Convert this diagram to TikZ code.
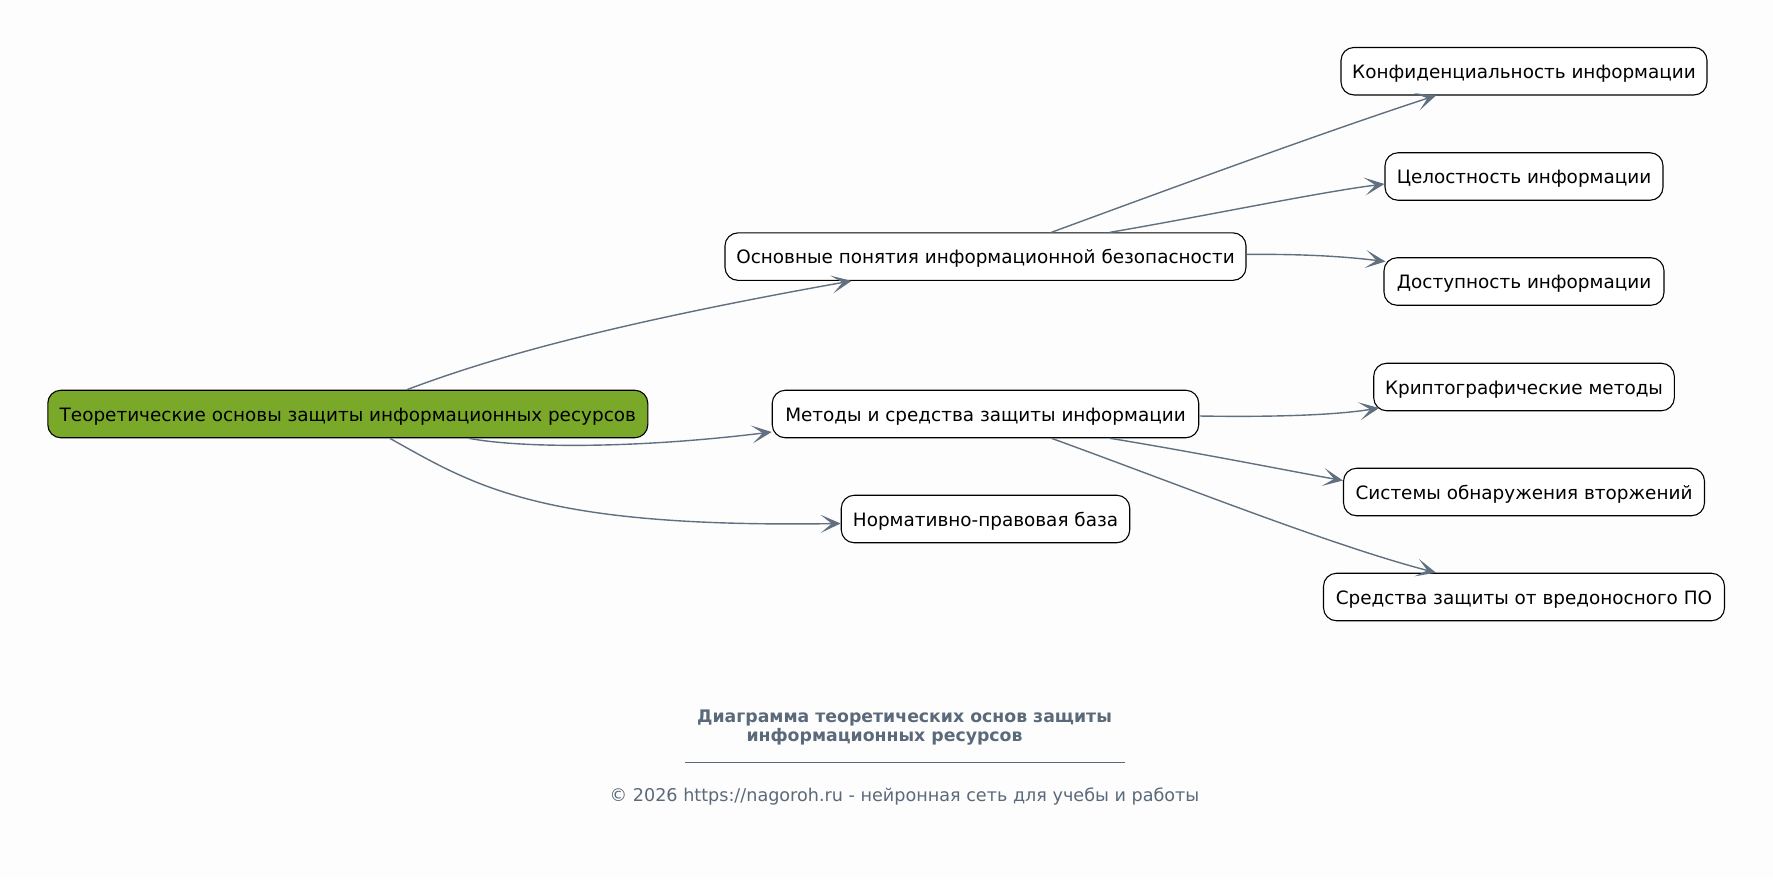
\documentclass[tikz,border=0pt]{standalone}
\usepackage{fontspec}
\setmainfont{DejaVu Sans}
\usetikzlibrary{arrows.meta}
\definecolor{edgec}{RGB}{96,112,128}
\definecolor{rootc}{RGB}{122,169,41}
\definecolor{bgc}{RGB}{253,253,253}
\definecolor{titlec}{RGB}{90,106,122}
\begin{document}
\begin{tikzpicture}[x=1pt,y=-1pt,
  box/.style={draw=black, line width=1.1pt, rounded corners=13pt, fill=white,
    minimum height=47.5pt, inner xsep=0pt, text height=18pt, text depth=4pt,
    font=\fontsize{18.4}{22}\selectfont, text=black},
  edge/.style={draw=edgec, line width=1.4pt, -{Stealth[length=20pt,width=18pt,inset=11pt]}}
]
\fill[bgc] (0,0) rectangle (1773,879);
\useasboundingbox (0,0) rectangle (1773,879);

\node[box, fill=rootc, minimum width=600pt] (root) at (347.8,414) {Теоретические основы защиты информационных ресурсов};
\node[box, minimum width=521pt] (osn) at (985.5,256.6) {Основные понятия информационной безопасности};
\node[box, minimum width=426.5pt] (met) at (985.5,414) {Методы и средства защиты информации};
\node[box, minimum width=288.5pt] (norm) at (985.5,519) {Нормативно-правовая база};
\node[box, minimum width=366pt] (konf) at (1524,71.2) {Конфиденциальность информации};
\node[box, minimum width=278pt] (cel) at (1524,176.5) {Целостность информации};
\node[box, minimum width=280pt] (dost) at (1524,281.5) {Доступность информации};
\node[box, minimum width=300.6pt] (krip) at (1524,387) {Криптографические методы};
\node[box, minimum width=361pt] (sys) at (1524,492) {Системы обнаружения вторжений};
\node[box, minimum width=401pt] (sred) at (1524,597) {Средства защиты от вредоносного ПО};

\draw[edge] ([xshift=59pt]root.north) .. controls (486,360) and (599,326) .. ([xshift=-134pt]osn.south);
\draw[edge] ([xshift=121pt]root.south) .. controls (520,448) and (633,449) .. ([yshift=-18pt]met.west);
\draw[edge] ([xshift=42pt]root.south) .. controls (475,486) and (540,528) .. ([yshift=-4.5pt]norm.west);

\draw[edge] ([xshift=66pt]osn.north) .. controls (1180,185) and (1330,130) .. ([xshift=-88pt]konf.south);
\draw[edge] ([xshift=124.5pt]osn.north) .. controls (1200,217) and (1320,192) .. ([yshift=-7.5pt]cel.west);
\draw[edge] ([yshift=2.2pt]osn.east) .. controls (1300,254) and (1340,256) .. ([xshift=2pt,yshift=20pt]dost.west);

\draw[edge] ([yshift=-2pt]met.east) .. controls (1260,417) and (1330,416) .. ([xshift=6pt,yshift=-21pt]krip.west);
\draw[edge] ([xshift=124.5pt]met.south) .. controls (1200,453) and (1300,473) .. ([yshift=11.5pt]sys.west);
\draw[edge] ([xshift=66pt]met.south) .. controls (1180,485) and (1330,545) .. ([xshift=-88pt]sred.north);

\node[text=titlec, font=\bfseries\fontsize{17.3}{19.5}\selectfont, align=center] (title) at (904.5,727.5)
  {Диаграмма теоретических основ защиты\\информационных ресурсов\hspace*{40pt}};
\coordinate (ul) at (685,762);
\coordinate (ur) at (1125,762);
\draw[titlec, line width=0.8pt] (ul) -- (ur);
\node[text=titlec, font=\fontsize{17.6}{20}\selectfont] (foot) at (904.5,796) {© 2026 https://nagoroh.ru - нейронная сеть для учебы и работы};
\end{tikzpicture}
\end{document}
